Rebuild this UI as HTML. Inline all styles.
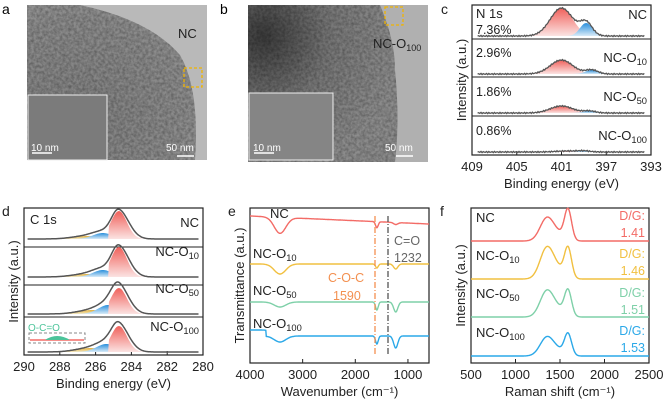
<!DOCTYPE html>
<html><head><meta charset="utf-8"><style>
body{margin:0;background:#fff;width:666px;height:403px;overflow:hidden;font-family:"Liberation Sans",Arial,sans-serif}
svg{position:absolute;left:0;top:0}
</style></head><body>
<svg id="fig" width="666" height="403" viewBox="0 0 666 403" font-family="Liberation Sans, Arial, sans-serif">
<defs>
<radialGradient id="ga" cx="0.3" cy="0.7" r="0.9"><stop offset="0" stop-color="#808080"/><stop offset="0.7" stop-color="#8c8c8c"/><stop offset="1" stop-color="#a0a0a0"/></radialGradient>
<radialGradient id="gb" cx="0.1" cy="0.2" r="0.9"><stop offset="0" stop-color="#3a3a3a"/><stop offset="0.5" stop-color="#777"/><stop offset="1" stop-color="#8c8c8c"/></radialGradient>
<linearGradient id="rf" x1="0" y1="0" x2="0" y2="1"><stop offset="0" stop-color="#f0605a"/><stop offset="1" stop-color="#fbe3e2"/></linearGradient>
<linearGradient id="bf" x1="0" y1="0" x2="0" y2="1"><stop offset="0" stop-color="#2a8fdc"/><stop offset="1" stop-color="#d8ebf8"/></linearGradient>
<linearGradient id="yf" x1="0" y1="0" x2="0" y2="1"><stop offset="0" stop-color="#e0b040"/><stop offset="1" stop-color="#f5e8c0"/></linearGradient>
<filter id="noise" x="0" y="0" width="1" height="1"><feTurbulence type="fractalNoise" baseFrequency="0.35" numOctaves="2" seed="3"/><feColorMatrix type="matrix" values="0 0 0 0 0  0 0 0 0 0  0 0 0 0 0  0 0 0 -1.4 1.0"/><feComposite in2="SourceGraphic" operator="in"/></filter>
</defs>
<!-- panel a -->
<text x="2" y="14" font-size="14">a</text>
<rect x="27" y="5" width="180" height="155" fill="#b9b9b9"/>
<path d="M27 5 L80 5 Q150 20 180 55 Q200 90 195 160 L27 160Z" fill="url(#ga)"/>
<path d="M27 5 L80 5 Q150 20 180 55 Q200 90 195 160 L27 160Z" fill="#000" filter="url(#noise)" opacity="0.35"/>
<rect x="28" y="95" width="79" height="65" fill="#7b7b7b" stroke="#eee"/>
<text x="178" y="38" font-size="13" fill="#222">NC</text>
<rect x="184" y="68" width="18" height="19" fill="none" stroke="#f0b400" stroke-dasharray="3,2" stroke-width="1.3"/>
<text x="31" y="151" font-size="10" fill="#fff">10 nm</text><line x1="32" y1="153" x2="52" y2="153" stroke="#fff" stroke-width="1.5"/>
<text x="166" y="151" font-size="10" fill="#fff">50 nm</text><line x1="177" y1="156" x2="194" y2="156" stroke="#fff" stroke-width="1.5"/>
<!-- panel b -->
<text x="220" y="14" font-size="14">b</text>
<rect x="248" y="5" width="180" height="157" fill="#b0b0b0"/>
<path d="M248 5 L380 5 Q395 40 395 70 Q400 120 395 162 L248 162Z" fill="url(#gb)"/>
<path d="M248 5 L380 5 Q395 40 395 70 Q400 120 395 162 L248 162Z" fill="#000" filter="url(#noise)" opacity="0.35"/>
<rect x="249" y="93" width="84" height="67" fill="#858585" stroke="#eee"/>
<text x="373" y="48" font-size="13" fill="#222">NC-O<tspan font-size="9" dy="3">100</tspan></text>
<rect x="385" y="7" width="18" height="18" fill="none" stroke="#f0b400" stroke-dasharray="3,2" stroke-width="1.3"/>
<text x="253" y="151" font-size="10" fill="#fff">10 nm</text><line x1="254" y1="153" x2="274" y2="153" stroke="#fff" stroke-width="1.5"/>
<text x="385" y="151" font-size="10" fill="#fff">50 nm</text><line x1="396" y1="156" x2="413" y2="156" stroke="#fff" stroke-width="1.5"/>
<g id="plots"></g>
</svg>
<script>
// ---- Panel c: N 1s
const nSamples=["NC","NC-O10","NC-O50","NC-O100"];
const nPct=["7.36%","2.96%","1.86%","0.86%"];
const nRedH=[28,14,7,1];const nRedC=[401,401,401,400.5];
const nBlueH=[13,4,2,1];const nBlueC=[398.8,398.3,398.5,399];
const nTicks=[409,405,401,397,393];
// ---- Panel d: C 1s
const cSamples=["NC","NC-O10","NC-O50","NC-O100"];
const cRedH=[28,30,26,26];const cRedC=[284.7,284.7,284.7,284.7];
const cBlueH=[6,7,9,8];const cBlueC=[285.6,285.6,285.3,285.4];
const cYelH=[3,3,4,4];const cYelC=[286.5,286.5,286.2,286.3];
const cTicks=[290,288,286,284,282,280];
// ---- Panel e: FTIR
const eSamples=["NC","NC-O10","NC-O50","NC-O100"];
const eColors=["#f36b66","#f1c040","#7ed0a8","#2aa8e8"];
const eBase=[216,264,302,330];
const eDip3430=[16,10,5,6];const eDip1590=[6,4,8,8];const eDip1232=[2,5,10,12];
const eTicks=[4000,3000,2000,1000];
// ---- Panel f: Raman
const fSamples=["NC","NC-O10","NC-O50","NC-O100"];
const fRatio=["1.41","1.46","1.51","1.53"];
const fBase=[241,279,317,356];
const fD=[22,30,25,18];const fG=[30,29,25,21];
const fTicks=[500,1000,1500,2000,2500];

const NS="http://www.w3.org/2000/svg";const root=document.getElementById('plots');
function mk(t,a,p){const e=document.createElementNS(NS,t);for(const k in a)e.setAttribute(k,a[k]);(p||root).appendChild(e);return e;}
function txt(x,y,s,sz,fill,anchor,sub,rot){const e=mk('text',{x:x,y:y,'font-size':sz,fill:fill||'#222','text-anchor':anchor||'start'});
 if(rot)e.setAttribute('transform','rotate(-90 '+x+' '+y+')');
 const m=s.match(/^(.*-O)(\d+)$/);if(m&&sub){e.textContent=m[1];const t=mk('tspan',{'font-size':sz*0.72,dy:3},e);t.textContent=m[2];}else e.textContent=s;return e;}
function g(x,c,h,s){return h*Math.exp(-((x-c)*(x-c))/(2*s*s));}
function axis(x0,x1,y0,y1,ticks,sx,title,ylab){
 const b=mk('rect',{x:x0,y:y0,width:x1-x0,height:y1-y0,fill:'none',stroke:'#222','stroke-width':1.2});
 
 ticks.forEach(t=>{const X=sx(t);mk('line',{x1:X,y1:y1,x2:X,y2:y1-4,stroke:'#222'});const l=txt(X,y1+16,String(t),13,'#222','middle');});
 const tt=txt((x0+x1)/2,y1+33,title,13,'#222','middle');
 const yt=txt(x0-6,(y0+y1)/2,ylab,13,'#222','middle',false,true);
}
function path(pts){return 'M'+pts.map(p=>p[0].toFixed(1)+' '+p[1].toFixed(1)).join('L');}
function fillPeak(sx,base,c,h,s,lo,hi,fill){const pts=[[sx(lo),base]];for(let e=lo;e<=hi;e+=0.05)pts.push([sx(e),base-g(e,c,h,s)]);pts.push([sx(hi),base]);return mk('path',{d:path(pts)+'Z',fill:fill,stroke:'none'});}

// panel c
(function(){const x0=472,x1=651,y0=5,y1=155;const sx=e=>x0+(409-e)/(409-393)*(x1-x0);
 txt(441,14,'c',14);axis(x0,x1,y0,y1,nTicks,sx,'Binding energy (eV)','Intensity (a.u.)');
 [39,77,116].forEach(d=>mk('line',{x1:x0,y1:d,x2:x1,y2:d,stroke:'#222'}));
 const bases=[36,74,113,152];
 nSamples.forEach((s,i)=>{const b=bases[i];
  const r=fillPeak(sx,b,nRedC[i],nRedH[i],1.0,396,406,'url(#rf)');
  const bl=fillPeak(sx,b,nBlueC[i],nBlueH[i],0.55,396,401,'url(#bf)');
  const pts=[];for(let e=408.5;e>=393.5;e-=0.1)pts.push([sx(e),b-g(e,nRedC[i],nRedH[i],1.0)-g(e,nBlueC[i],nBlueH[i],0.55)+Math.sin(e*37)*0.6]);
  const l=mk('path',{d:path(pts),fill:'none',stroke:'#555','stroke-width':1.3});
  const lb=txt(x1-4,i==0?19:b-12,s,13,'#222','end',true);
  const pc=txt(x0+4,i==0?34:b-17,nPct[i],12.5,'#222');});
 txt(x0+4,18,'N 1s',13);})();

// panel d
(function(){const x0=24,x1=203,y0=208,y1=355;const sx=e=>x0+(290-e)/(290-280)*(x1-x0);
 txt(2,216,'d',14);axis(x0,x1,y0,y1,cTicks,sx,'Binding energy (eV)','Intensity (a.u.)');
 [247,285,317].forEach(d=>mk('line',{x1:x0,y1:d,x2:x1,y2:d,stroke:'#222'}));
 const bases=[239,277,314,352];
 cSamples.forEach((s,i)=>{const b=bases[i];
  const y=fillPeak(sx,b,cYelC[i],cYelH[i],0.8,284,289,'url(#yf)');
  const bl=fillPeak(sx,b,cBlueC[i],cBlueH[i],0.55,283.5,287.5,'url(#bf)');
  const r=fillPeak(sx,b,cRedC[i],cRedH[i],0.45,282.5,285.3,'url(#rf)');
  const pts=[];for(let e=289.8;e>=280.2;e-=0.05){const s2=e<cRedC[i]?0.55:0.4;pts.push([sx(e),b-g(e,cRedC[i],cRedH[i],s2)-g(e,cBlueC[i],cBlueH[i],0.55)-g(e,cYelC[i],cYelH[i],0.8)]);}
  const l=mk('path',{d:path(pts),fill:'none',stroke:'#555','stroke-width':1.5});
  const lb=txt(x1-4,i==0?227:b-21,s,13,'#222','end',true);});
 txt(x0+6,224,'C 1s',13);
 txt(28,331,'O-C=O',10,'#4cc49a');mk('rect',{x:29,y:333,width:56,height:10,fill:'none',stroke:'#888','stroke-dasharray':'3,2'});
 mk('line',{x1:30,y1:340,x2:84,y2:340,stroke:'#f36b66','stroke-width':1.5});mk('path',{d:'M45 340 Q57 332 70 340Z',fill:'#4cc49a'});})();

// panel e
(function(){const x0=250,x1=429,y0=208,y1=363;const sx=w=>x0+(4000-w)/(4000-600)*(x1-x0);
 txt(228,216,'e',14);axis(x0,x1,y0,y1,eTicks,sx,'Wavenumber (cm\u207B\u00B9)','Transmittance (a.u.)');
 eSamples.forEach((s,i)=>{const pts=[];for(let w=4000;w>=600;w-=10){let y=eBase[i]+(i==0?(4000-w)/3400*8:0);
   if(i==3&&w<3700)y+=6;
   y+=g(w,3430,eDip3430[i],110)+g(w,1590,eDip1590[i],25)+g(w,1232,eDip1232[i],40);pts.push([sx(w),y]);}
  const l=mk('path',{d:path(pts),fill:'none',stroke:eColors[i],'stroke-width':1.4});
  const lb=txt(i==0?270:253,[218,258,295,328][i],s,13,'#222','start',true);});
 mk('line',{x1:375,y1:216,x2:375,y2:356,stroke:'#f39050','stroke-dasharray':'6,2,1,2','stroke-width':1.3});
 mk('line',{x1:388,y1:216,x2:388,y2:356,stroke:'#555','stroke-dasharray':'6,2,1,2','stroke-width':1.3});
 txt(394,245,'C=O',12.5,'#666');txt(394,262,'1232',12.5,'#666');txt(328,282,'C-O-C',12.5,'#f39050');txt(333,300,'1590',12.5,'#f39050');})();

// panel f
(function(){const x0=471,x1=649,y0=208,y1=363;const sx=r=>x0+(r-500)/2000*(x1-x0);
 txt(440,216,'f',14);axis(x0,x1,y0,y1,fTicks,sx,'Raman shift (cm\u207B\u00B9)','Intensity (a.u.)');
 fSamples.forEach((s,i)=>{const pts=[];for(let r=500;r<=2500;r+=5){pts.push([sx(r),fBase[i]-g(r,1350,fD[i],75)-g(r,1590,fG[i],40)-g(r,1480,fD[i]*0.3,80)]);}
  const l=mk('path',{d:path(pts),fill:'none',stroke:eColors[i],'stroke-width':1.4});
  const lb=txt(476,[222,260,298,337][i],s,13,'#222','start',true);
  const r1=txt(645,[220,258,297,335][i],'D/G:',12.5,eColors[i],'end');
  const r2=txt(645,[237,275,314,352][i],fRatio[i],12.5,eColors[i],'end');});})();
</script>
</body></html>
